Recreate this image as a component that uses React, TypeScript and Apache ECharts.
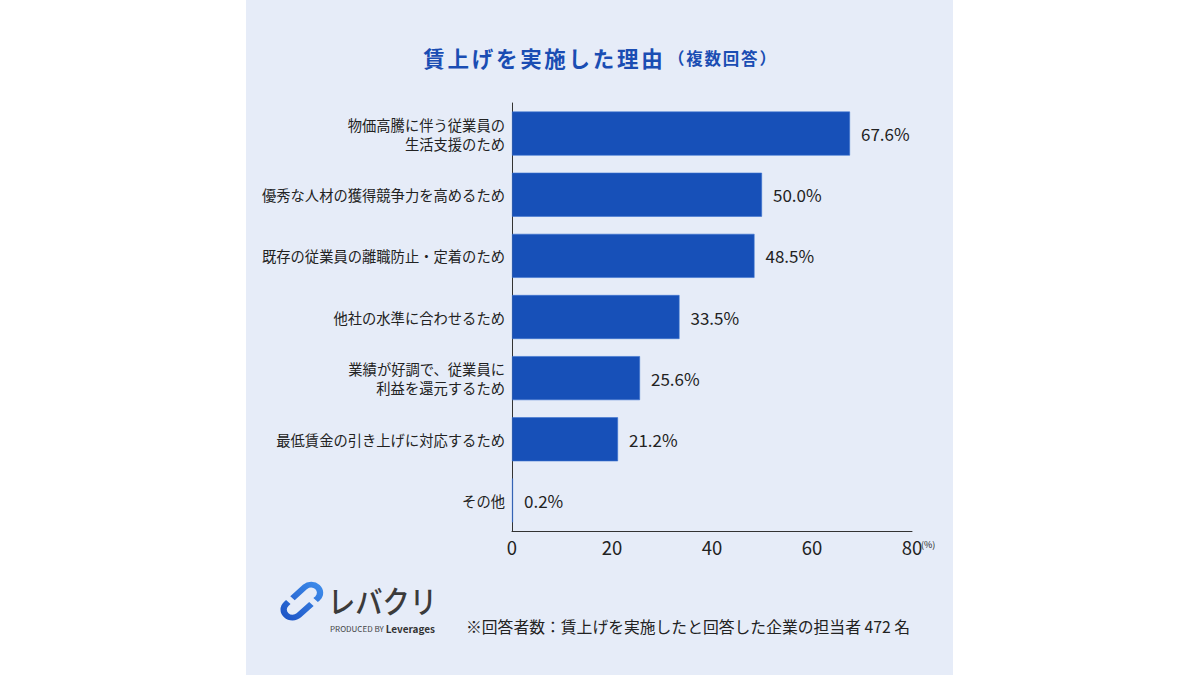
import React, { useEffect, useRef } from "react";
import * as echarts from "echarts";

const categories = [
  "物価高騰に伴う従業員の\n生活支援のため",
  "優秀な人材の獲得競争力を高めるため",
  "既存の従業員の離職防止・定着のため",
  "他社の水準に合わせるため",
  "業績が好調で、従業員に\n利益を還元するため",
  "最低賃金の引き上げに対応するため",
  "その他",
];
const values = [67.6, 50.0, 48.5, 33.5, 25.6, 21.2, 0.2];
const axisTicks = [0, 20, 40, 60, 80];

const titleMain = "賃上げを実施した理由";
const titleSub = "（複数回答）";
const footnote = "※回答者数：賃上げを実施したと回答した企業の担当者 472 名";

const FONT = '"Noto Sans CJK JP", "Noto Sans", sans-serif';

const LINK_PATH =
  "M28.01 22.01 L16.01 34.01 A8.5 8.5 0 0 1 3.99 21.99 L5.99 19.99 " +
  "M9.99 15.99 L21.99 3.99 A8.5 8.5 0 0 1 34.01 15.99 L32.01 18.01";

let registered = false;
function registerLogo() {
  if (registered) return;
  echarts.graphic.registerShape("logo", echarts.graphic.extendPath(LINK_PATH, {}) as any);
  registered = true;
}

// spaced title: each character is its own text element with a fixed advance
function spacedText(str: string, startX: number, y: number, advance: number, fontSize: number, color: string) {
  return Array.from(str).map((ch, i) => ({
    type: "text",
    x: startX + i * advance + advance / 2,
    y,
    style: {
      text: ch,
      fontSize,
      fontWeight: "bold",
      fill: color,
      fontFamily: FONT,
      align: "center",
      verticalAlign: "middle",
    },
  }));
}

export default function App() {
  const ref = useRef<HTMLDivElement>(null);
  useEffect(() => {
    if (!ref.current) return;
    registerLogo();
    const chart = echarts.init(ref.current, null, { renderer: "svg" });
    const mainAdv = 24.2;
    const subAdv = 18.3;
    const mainStart = 422;
    const subStart = mainStart + titleMain.length * mainAdv + 3;
    chart.setOption({
      animation: false,
      backgroundColor: "transparent",
      textStyle: { fontFamily: FONT },
      grid: { left: 512, right: 288, top: 103, bottom: 144, containLabel: false },
      xAxis: {
        type: "value",
        min: axisTicks[0],
        max: axisTicks[axisTicks.length - 1],
        interval: axisTicks[1] - axisTicks[0],
        axisLine: { show: true, lineStyle: { color: "#333", width: 1 } },
        axisTick: { show: false },
        splitLine: { show: false },
        axisLabel: { color: "#222", fontSize: 18.5, margin: 7, fontFamily: FONT },
      },
      yAxis: {
        type: "category",
        inverse: true,
        data: categories,
        axisLine: { show: true, lineStyle: { color: "#333", width: 1 } },
        axisTick: { show: false },
        axisLabel: {
          color: "#222",
          fontSize: 14.3,
          lineHeight: 19,
          margin: 7,
          align: "right",
          fontFamily: FONT,
        },
      },
      series: [
        {
          type: "bar",
          data: values,
          barWidth: 44,
          itemStyle: { color: "#1750B8", borderColor: "#3A72D0", borderWidth: 0.6 },
          label: {
            show: true,
            position: "right",
            distance: 11,
            color: "#222",
            fontSize: 17,
            fontFamily: FONT,
            formatter: (p: any) => `${Number(p.value).toFixed(1)}%`,
          },
        },
      ],
      graphic: [
        ...spacedText(titleMain, mainStart, 57, mainAdv, 21.5, "#1A4DB3"),
        ...spacedText(titleSub, subStart, 58, subAdv, 16.5, "#1A4DB3"),
        {
          type: "text",
          x: 921,
          y: 540,
          style: { text: "(%)", fontSize: 9, fill: "#222", fontFamily: FONT },
        },
        {
          type: "logo",
          x: 282,
          y: 583,
          scaleX: 1.05,
          scaleY: 0.95,
          style: {
            fill: "none",
            stroke: new echarts.graphic.LinearGradient(0, 1, 1, 0, [
              { offset: 0, color: "#1E55C6" },
              { offset: 1, color: "#3D8BEA" },
            ]),
            lineWidth: 6,
            lineCap: "butt",
          },
        } as any,
        {
          type: "text",
          x: 328,
          y: 584,
          scaleX: 0.88,
          style: {
            text: "レバクリ",
            fontSize: 31,
            fontWeight: 500,
            fill: "#3B3B3B",
            fontFamily: FONT,
          } as any,
        },
        {
          type: "text",
          x: 330,
          y: 623,
          style: {
            text: "{p|PRODUCED BY }{l|Leverages}",
            rich: {
              p: { fontSize: 8, fill: "#444", fontFamily: FONT },
              l: { fontSize: 10, fontWeight: "bold", fill: "#333", fontFamily: FONT },
            },
          },
        },
        {
          type: "text",
          x: 466,
          y: 619,
          style: { text: footnote, fontSize: 15.8, fill: "#222", fontFamily: FONT },
        },
      ],
    });
    return () => chart.dispose();
  }, []);
  return (
    <div
      style={{
        position: "fixed",
        left: 0,
        top: 0,
        width: 1200,
        height: 675,
        background:
          "linear-gradient(to right, #ffffff 0px, #ffffff 246px, #E6ECF8 246px, #E6ECF8 953px, #ffffff 953px)",
      }}
    >
      <div ref={ref} style={{ width: 1200, height: 675 }} />
    </div>
  );
}
